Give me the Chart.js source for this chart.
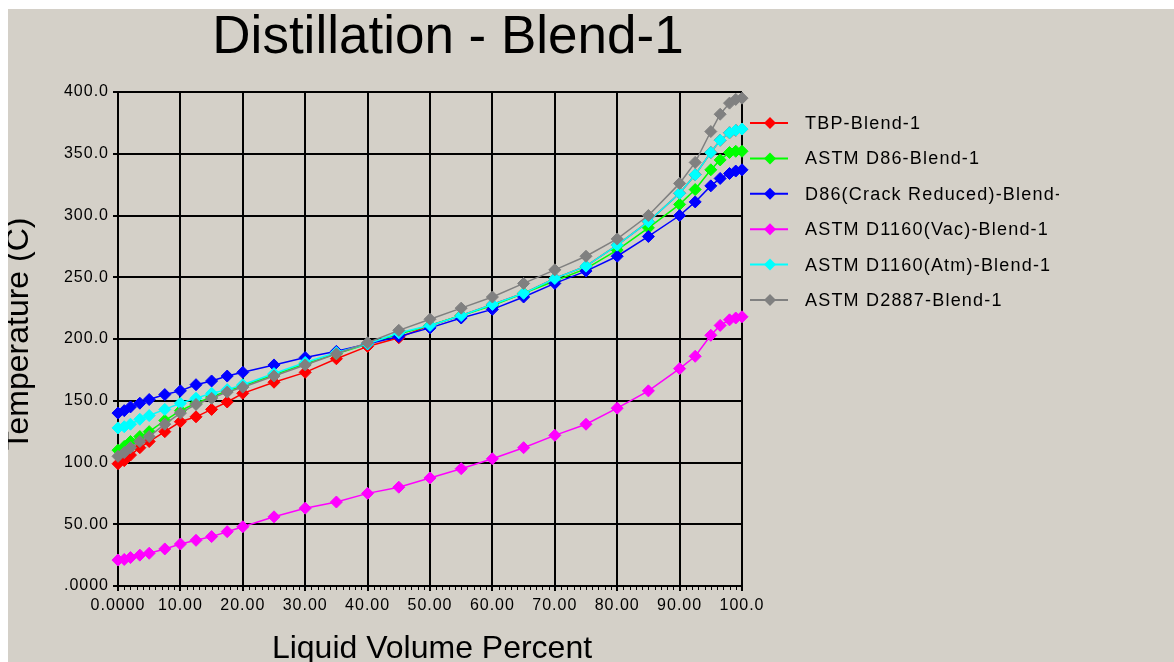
<!DOCTYPE html>
<html><head><meta charset="utf-8">
<script src="https://cdn.jsdelivr.net/npm/chart.js@4/dist/chart.umd.min.js"></script>
<style>html,body{margin:0;padding:0;background:#fff;overflow:hidden}#wrap{width:1174px;height:662px;position:relative}canvas{display:block}</style>
</head><body><div id="wrap"><canvas id="c" width="1174" height="662"></canvas></div>
<script>
const chartTitle = 'Distillation - Blend-1';
const xAxisTitle = 'Liquid Volume Percent';
const yAxisTitle = 'Temperature (C)';

const volumePercent = [0,1,2,3.5,5,7.5,10,12.5,15,17.5,20,25,30,35,40,45,50,55,60,65,70,75,80,85,90,92.5,95,96.5,98,99,100];

const tbpBlend1      = [99,101.5,106,112,117,125,133,137,143,149,156,165,173,184,194,201,211,219,228,237,249,259,276,295,318,333,351,361,367,369,370];
const d86Blend1      = [110,113,117,121,125,134,142,148,153,158,162,171,180,188,196,204,211,219,227,237,247,257,272,290,309,321,337,345,351,352,352];
const d86CrackRed    = [140,142,145,148,151,155,158,163,166,170,173,179,185,190,196,202,209,217,224,234,245,255,267,283,300,311,324,330,334,336,337];
const d1160VacBlend1 = [21,21.5,23,25,26.5,30,34,37,40,44,48,56,63,68,75,80,87.5,95,103,112,122,131,144,158,176,186,203,211,215.5,217,218];
const d1160AtmBlend1 = [128,129,131,135,138,143,148,152,156,159,163,172,181,189,196,205,211,219,228,237,249,259,276,295,318,333,351,361,367,369,370];
const d2887Blend1    = [105,108,112,117,121,131,140,147,152,157,161,170,179,188,197,207,216,225,234,245,256,267,281,300,326,343,368,382,391,394,395];

const seriesNames  = ['TBP-Blend-1','ASTM D86-Blend-1','D86(Crack Reduced)-Blend-1','ASTM D1160(Vac)-Blend-1','ASTM D1160(Atm)-Blend-1','ASTM D2887-Blend-1'];
const seriesValues = [tbpBlend1, d86Blend1, d86CrackRed, d1160VacBlend1, d1160AtmBlend1, d2887Blend1];
const seriesColors = ['#ff0000','#00ff00','#0000ff','#ff00ff','#00ffff','#808080'];

const xTickLabels = ['0.0000','10.00','20.00','30.00','40.00','50.00','60.00','70.00','80.00','90.00','100.0'];
const yTickLabels = ['.0000','50.00','100.0','150.0','200.0','250.0','300.0','350.0','400.0'];

const BG = '#d4d0c8';

const datasets = seriesNames.map((name, i) => ({
  label: name,
  data: volumePercent.map((x, j) => ({x: x, y: seriesValues[i][j]})),
  borderColor: seriesColors[i],
  backgroundColor: seriesColors[i],
  borderWidth: 1.5,
  pointStyle: 'rectRot',
  pointRadius: 6,
  pointBorderWidth: 1,
  tension: 0,
  clip: false,
  order: seriesNames.length - i
}));

const decor = {
  id: 'decor',
  beforeDraw(chart) {
    const ctx = chart.ctx;
    ctx.save();
    ctx.fillStyle = '#ffffff';
    ctx.fillRect(0, 0, chart.width, chart.height);
    ctx.fillStyle = BG;
    ctx.fillRect(8, 9, chart.width - 8, chart.height - 9);
    ctx.restore();
    ctx.letterSpacing = '1px';
  },
  afterDraw(chart) {
    const ctx = chart.ctx;
    ctx.letterSpacing = '0px';
    const xs = chart.scales.x;
    const area = chart.chartArea;
    ctx.save();
    // minor ticks on x axis
    ctx.strokeStyle = '#000';
    ctx.lineWidth = 1;
    ctx.beginPath();
    for (let v = 0; v <= 100; v++) {
      const px = Math.round(xs.getPixelForValue(v)) + 0.5;
      ctx.moveTo(px, area.bottom);
      ctx.lineTo(px, area.bottom + 4);
    }
    ctx.stroke();

    ctx.fillStyle = '#000';
    // title
    ctx.font = '53px "Liberation Sans", Arial, sans-serif';
    ctx.textAlign = 'center';
    ctx.textBaseline = 'alphabetic';
    ctx.fillText(chartTitle, 448, 53);
    // x axis title
    ctx.font = '32px "Liberation Sans", Arial, sans-serif';
    ctx.fillText(xAxisTitle, 432, 658);
    // y axis title
    ctx.save();
    ctx.translate(28, 334);
    ctx.rotate(-Math.PI / 2);
    ctx.fillText(yAxisTitle, 0, 0);
    ctx.restore();

    // legend
    ctx.save();
    ctx.beginPath();
    ctx.rect(744, 100, 1059 - 744, 220);
    ctx.clip();
    ctx.font = '18px "Liberation Sans", Arial, sans-serif';
    ctx.letterSpacing = '1.2px';
    ctx.textAlign = 'left';
    ctx.textBaseline = 'middle';
    seriesNames.forEach((name, i) => {
      const y = 123 + i * 35.4;
      ctx.strokeStyle = seriesColors[i];
      ctx.lineWidth = 2;
      ctx.beginPath();
      ctx.moveTo(750, y); ctx.lineTo(788, y);
      ctx.stroke();
      ctx.fillStyle = seriesColors[i];
      ctx.beginPath();
      ctx.moveTo(770 - 6, y); ctx.lineTo(770, y - 6); ctx.lineTo(776, y); ctx.lineTo(770, y + 6);
      ctx.closePath();
      ctx.fill();
      ctx.fillStyle = '#000';
      ctx.fillText(name, 805, y + 1);
    });
    ctx.letterSpacing = '0px';
    ctx.restore();

    // white frame strips
    ctx.fillStyle = '#ffffff';
    ctx.fillRect(0, 0, chart.width, 9);
    ctx.fillRect(0, 0, 8, chart.height);
    ctx.restore();
  }
};

new Chart(document.getElementById('c'), {
  type: 'line',
  data: { datasets: datasets },
  options: {
    responsive: false,
    animation: false,
    devicePixelRatio: 1,
    layout: { padding: { top: 92, right: 432, left: 0, bottom: 0 } },
    plugins: { legend: { display: false }, title: { display: false }, tooltip: { enabled: false } },
    scales: {
      x: {
        type: 'linear', min: 0, max: 100,
        ticks: {
          stepSize: 10, autoSkip: false, maxRotation: 0, color: '#000', padding: 5,
          font: { family: '"Liberation Sans", Arial, sans-serif', size: 16 },
          callback: (v) => xTickLabels[Math.round(v / 10)]
        },
        grid: { color: '#000', lineWidth: 2, tickLength: 5, drawTicks: true },
        border: { color: '#000', width: 2 },
        afterFit: (s) => { s.height = 76; }
      },
      y: {
        type: 'linear', min: 0, max: 400,
        ticks: {
          stepSize: 50, autoSkip: false, color: '#000', padding: 4,
          font: { family: '"Liberation Sans", Arial, sans-serif', size: 16 },
          callback: (v) => yTickLabels[Math.round(v / 50)]
        },
        grid: { color: '#000', lineWidth: 2, tickLength: 5, drawTicks: true },
        border: { color: '#000', width: 2 },
        afterFit: (s) => { s.width = 118; }
      }
    }
  },
  plugins: [decor]
});
</script>
</body></html>
